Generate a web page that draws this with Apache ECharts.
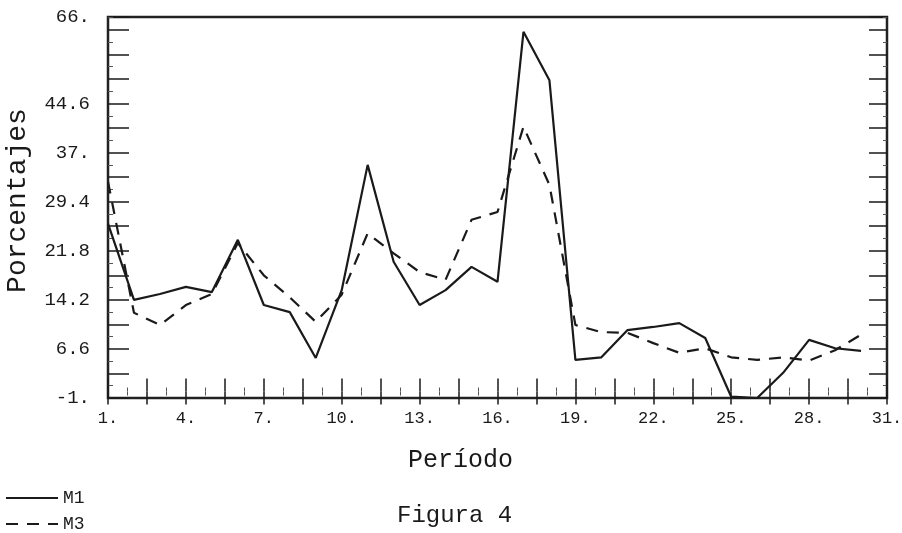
<!DOCTYPE html>
<html>
<head>
<meta charset="utf-8">
<script src="https://cdn.jsdelivr.net/npm/echarts@6/dist/echarts.min.js"></script>
<style>
  html, body { margin: 0; padding: 0; background: #fff; }
  #chart { width: 902px; height: 533px; }
</style>
</head>
<body>
<div id="chart"></div>
<script>
// periods on the x axis
var periods = [1, 2, 3, 4, 5, 6, 7, 8, 9, 10, 11, 12, 13, 14, 15, 16, 17, 18, 19, 20,
  21, 22, 23, 24, 25, 26, 27, 28, 29, 30]
// percentages
var m1 = [26, 14.2, 15.1, 16.2, 15.4, 23.5, 13.4, 12.3, 5.2, 15.7, 35.1, 20.1, 13.4, 15.7, 19.3,
  17.0, 55.7, 48.2, 4.9, 5.3, 9.5, 10.0, 10.6, 8.3, -0.8, -1.0, 2.9, 8.0, 6.7, 6.3]
var m3 = [32.5, 12.2, 10.3, 13.4, 15.1, 23.0, 18.0, 14.6, 10.8, 15.0, 24.5, 21.4, 18.5, 17.3, 26.6,
  27.8, 41.0, 32.0, 10.3, 9.2, 9.1, 7.5, 6.0, 6.7, 5.3, 4.9, 5.3, 4.8, 6.4, 8.8]
// tick labels as printed
var xTickLabels = ['1.', '4.', '7.', '10.', '13.', '16.', '19.', '22.', '25.', '28.', '31.']
var yTickLabels = ['-1.', '6.6', '14.2', '21.8', '29.4', '37.', '44.6']
var yTopLabel = '66.'

var font = 'Liberation Mono, DejaVu Sans Mono, monospace'
var ink = '#1a1a1a'

var yMin = -1
var yMax = 58
var yStep = 3.8
var xStep = 1.5

function pairs (vals) {
  return vals.map(function (v, i) { return [periods[i], v] })
}

function xLabel (v) {
  var k = (v - 1) / 3
  if (Math.abs(k - Math.round(k)) > 1e-6) return ''
  return xTickLabels[Math.round(k)] || ''
}

function yLabel (v) {
  if (Math.abs(v - yMax) < 1e-6) return yTopLabel
  var k = Math.round((v - yMin) / yStep)
  if (k % 2 !== 0) return ''
  return yTickLabels[k / 2] || ''
}

function legendBox (name, top) {
  return {
    left: 0,
    top: top,
    itemWidth: 52,
    itemHeight: 10,
    itemStyle: { opacity: 0 },
    textStyle: { fontFamily: font, fontSize: 18, color: ink },
    data: [name]
  }
}

var myChart = echarts.init(document.getElementById('chart'))
myChart.setOption({
  animation: false,
  backgroundColor: '#fff',
  textStyle: { fontFamily: font, color: ink },
  grid: {
    left: 108,
    right: 15,
    top: 17,
    bottom: 135,
    containLabel: false,
    outerBoundsMode: 'none',
    show: true,
    borderColor: '#222',
    borderWidth: 2.5
  },
  legend: [legendBox('M1', 484), legendBox('M3', 510)],
  xAxis: [{
    type: 'value',
    min: 1,
    max: 31,
    interval: xStep,
    axisLine: { show: false },
    splitLine: { show: false },
    axisTick: { inside: true, length: 13, lineStyle: { color: ink, width: 1.5 } },
    minorTick: { show: true, splitNumber: 2, length: 4, lineStyle: { color: '#555' } },
    axisLabel: {
      formatter: xLabel,
      margin: 12,
      fontFamily: font,
      fontSize: 17,
      color: ink,
      showMinLabel: true,
      showMaxLabel: true
    },
    name: 'Período',
    nameLocation: 'middle',
    nameGap: 50,
    nameTextStyle: { fontFamily: font, fontSize: 25, color: ink, padding: [0, 74, 0, 0] }
  }, {
    type: 'value',
    position: 'top',
    min: 1,
    max: 31,
    interval: xStep,
    axisLine: { show: false },
    splitLine: { show: false },
    axisTick: { inside: true, length: 13, lineStyle: { color: ink, width: 1.5 } },
    minorTick: { show: true, splitNumber: 2, length: 4, lineStyle: { color: '#555' } },
    axisLabel: { show: false }
  }],
  yAxis: [{
    type: 'value',
    min: yMin,
    max: yMax,
    interval: yStep,
    axisLine: { show: false },
    splitLine: { show: false },
    axisTick: { inside: true, length: 21, lineStyle: { color: ink, width: 1.5 } },
    minorTick: { show: true, splitNumber: 2, length: 5, lineStyle: { color: '#555' } },
    axisLabel: {
      formatter: yLabel,
      margin: 18,
      fontFamily: font,
      fontSize: 19,
      color: ink,
      showMinLabel: true,
      showMaxLabel: true
    },
    name: 'Porcentajes',
    nameLocation: 'middle',
    nameGap: 76,
    nameTextStyle: { fontFamily: font, fontSize: 28, color: ink, padding: [0, 0, 0, 14] }
  }, {
    type: 'value',
    position: 'right',
    min: yMin,
    max: yMax,
    interval: yStep,
    axisLine: { show: false },
    splitLine: { show: false },
    axisTick: { inside: true, length: 18, lineStyle: { color: ink, width: 1.5 } },
    minorTick: { show: true, splitNumber: 2, length: 4, lineStyle: { color: '#555' } },
    axisLabel: { show: false }
  }],
  title: {
    text: 'Figura 4',
    left: 392,
    top: 499,
    textStyle: { fontFamily: font, fontSize: 24, fontWeight: 'normal', color: ink }
  },
  series: [{
    name: 'M1',
    type: 'line',
    symbol: 'none',
    lineStyle: { color: ink, width: 2.2 },
    itemStyle: { color: ink },
    data: pairs(m1)
  }, {
    name: 'M3',
    type: 'line',
    symbol: 'none',
    lineStyle: { color: ink, width: 2.2, type: [12, 9] },
    itemStyle: { color: ink },
    data: pairs(m3)
  }]
})
</script>
</body>
</html>
